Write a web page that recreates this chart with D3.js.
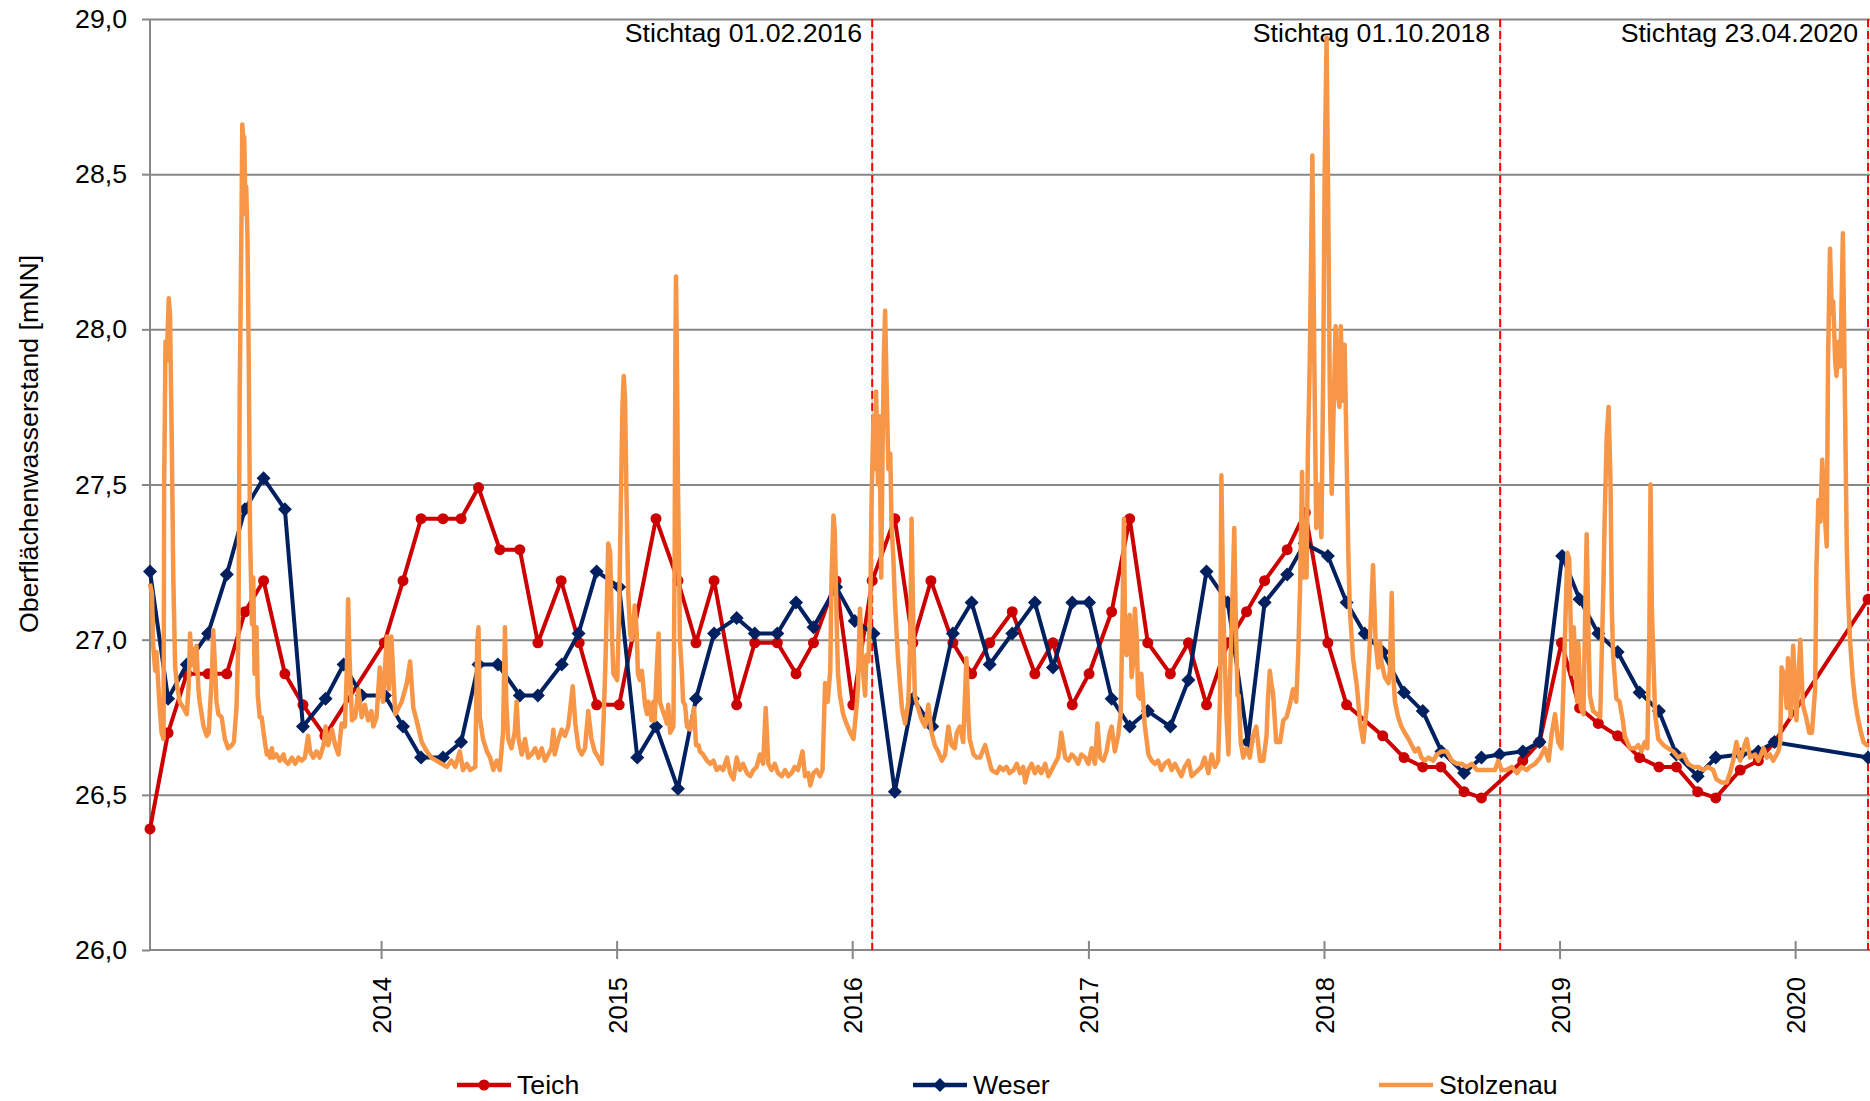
<!DOCTYPE html>
<html>
<head>
<meta charset="utf-8">
<script src="https://cdn.jsdelivr.net/npm/d3@7/dist/d3.min.js"></script>
<style>
  html, body { margin: 0; padding: 0; background: #ffffff; }
  svg { display: block; font-family: "Liberation Sans", Arial, sans-serif; }
</style>
</head>
<body>
<svg id="chart" width="1870" height="1101"></svg>
<script>
// ---- Teich: monthly gauge readings [m NN] ----
const teichDates = [
  "2013-01-08","2013-02-05","2013-03-06","2013-04-08","2013-05-07","2013-06-04","2013-07-03","2013-08-05","2013-09-02","2013-10-06",
  "2014-01-06","2014-02-04","2014-03-04","2014-04-07","2014-05-05","2014-06-01","2014-07-04","2014-08-04","2014-09-01","2014-10-07","2014-11-04","2014-12-01",
  "2015-01-05","2015-03-03","2015-04-06","2015-05-04","2015-06-01","2015-07-06","2015-08-03","2015-09-07","2015-10-06","2015-11-02","2015-12-07",
  "2016-01-02","2016-02-01","2016-03-07","2016-04-04","2016-05-02","2016-06-05","2016-07-04","2016-08-01","2016-09-05","2016-10-10","2016-11-07","2016-12-07",
  "2017-01-02","2017-02-06","2017-03-06","2017-04-03","2017-05-08","2017-06-05","2017-07-03","2017-08-05","2017-09-03","2017-10-01","2017-11-05","2017-12-03",
  "2018-01-07","2018-02-05","2018-04-02","2018-05-05","2018-06-03","2018-07-01","2018-08-06","2018-09-02","2018-11-05","2018-12-01",
  "2019-01-04","2019-02-01","2019-03-02","2019-04-01","2019-05-05","2019-06-04","2019-07-01","2019-08-03","2019-08-31","2019-10-08","2019-11-05","2019-11-30",
  "2020-04-23"
];
const teichValues = [
  26.39,26.70,26.89,26.89,26.89,27.09,27.19,26.89,26.79,26.69,
  26.99,27.19,27.39,27.39,27.39,27.49,27.29,27.29,26.99,27.19,26.99,26.79,
  26.79,27.39,27.19,26.99,27.19,26.79,26.99,26.99,26.89,26.99,27.19,
  26.79,27.19,27.39,26.99,27.19,26.99,26.89,26.99,27.09,26.89,26.99,26.79,
  26.89,27.09,27.39,26.99,26.89,26.99,26.79,26.99,27.09,27.19,27.29,27.41,
  26.99,26.79,26.69,26.62,26.59,26.59,26.51,26.49,26.61,26.67,
  26.99,26.78,26.73,26.69,26.62,26.59,26.59,26.51,26.49,26.58,26.61,26.67,
  27.13
];

// ---- Weser: monthly gauge readings [m NN] ----
const weserDates = [
  "2013-01-08","2013-02-05","2013-03-06","2013-04-08","2013-05-07","2013-06-04","2013-07-03","2013-08-05","2013-09-02","2013-10-07","2013-11-04","2013-12-02",
  "2014-01-07","2014-02-04","2014-03-04","2014-04-07","2014-05-05","2014-06-01","2014-07-01","2014-08-04","2014-09-01","2014-10-08","2014-11-03","2014-12-01",
  "2015-01-05","2015-02-02","2015-03-03","2015-04-06","2015-05-04","2015-06-01","2015-07-06","2015-08-03","2015-09-07","2015-10-06","2015-11-02","2015-12-07",
  "2016-01-05","2016-02-03","2016-03-07","2016-04-04","2016-05-04","2016-06-05","2016-07-04","2016-08-01","2016-09-05","2016-10-10","2016-11-07","2016-12-07",
  "2017-01-02","2017-02-06","2017-03-06","2017-04-03","2017-05-08","2017-06-05","2017-07-03","2017-08-05","2017-09-05","2017-10-01","2017-11-05","2017-12-02",
  "2018-01-07","2018-02-05","2018-03-05","2018-04-02","2018-05-05","2018-06-03","2018-07-02","2018-08-06","2018-09-02","2018-09-30","2018-11-05","2018-12-01",
  "2019-01-05","2019-02-01","2019-03-02","2019-04-01","2019-05-05","2019-06-04","2019-07-01","2019-08-03","2019-08-31","2019-10-08","2019-11-05","2019-11-30",
  "2020-04-23"
];
const weserValues = [
  27.22,26.81,26.92,27.02,27.21,27.42,27.52,27.42,26.72,26.81,26.92,26.82,
  26.82,26.72,26.62,26.62,26.67,26.92,26.92,26.82,26.82,26.92,27.02,27.22,
  27.17,26.62,26.72,26.52,26.81,27.02,27.07,27.02,27.02,27.12,27.04,27.17,
  27.06,27.02,26.51,26.81,26.72,27.02,27.12,26.92,27.02,27.12,26.91,27.12,
  27.12,26.81,26.72,26.77,26.72,26.87,27.22,27.12,26.67,27.12,27.21,27.31,
  27.27,27.12,27.02,26.96,26.83,26.77,26.64,26.57,26.62,26.63,26.64,26.67,
  27.27,27.13,27.02,26.96,26.83,26.77,26.63,26.56,26.62,26.63,26.64,26.67,
  26.62
];

// ---- Stolzenau: gauge series, day number counted from 1 Jan 2013 ----
const stolzenauDays = [
  7,10,12,15,17,20,22,25,28,29,31,33,36,38,41,43,46,49,53,59,64,67,69,72,74,77,79,82,84,90,95,98,100,103,105,108,110,113,118,123,128,134,137,141,
  144,146,149,150,152,153,155,156,158,160,162,165,167,169,172,174,177,180,183,185,188,190,193,196,198,203,208,214,216,221,227,232,237,242,247,252,255,
  260,265,270,276,279,283,289,294,299,304,309,312,314,316,320,325,330,335,340,345,350,353,358,363,
  368,374,377,381,387,392,397,405,410,415,420,428,436,443,451,459,467,474,480,487,492,498,503,511,514,516,518,523,529,534,539,544,549,554,557,559,562,
  567,572,575,578,583,588,593,598,604,609,614,619,624,629,632,634,640,645,650,655,662,666,671,676,681,686,691,696,702,707,710,713,717,720,
  723,725,728,731,734,737,739,741,743,745,748,751,753,756,758,761,763,766,769,771,774,777,779,782,784,787,789,792,795,797,800,805,808,810,813,818,
  820,821,822,823,825,827,828,831,833,836,839,844,850,853,857,859,864,870,875,880,885,890,895,901,906,911,916,921,926,932,937,942,947,952,957,961,
  965,970,975,980,986,991,996,1001,1006,1011,1018,1022,1027,1030,1035,1040,1045,1049,1053,1057,1061,1063,1066,1068,1071,1073,1076,1081,1086,
  1092,1097,1102,1104,1107,1110,1112,1115,1117,1120,1123,1125,1128,1130,1132,1135,1137,1140,1142,1144,1146,1148,1151,1154,1156,1159,1161,1166,1172,
  1177,1182,1185,1187,1190,1192,1197,1203,1208,1213,1218,1223,1228,1234,1239,1244,1249,1254,1257,1262,1267,1272,1275,1277,1283,1288,1293,1301,1306,
  1311,1319,1324,1329,1334,1339,1345,1350,1355,1360,1363,1368,1373,1378,1383,1388,1394,1399,1404,1409,1414,1417,1419,1422,1425,1430,1435,1440,1445,1450,
  1456,1461,1466,1471,1475,1479,1484,1489,1494,1497,1502,1507,1511,1514,1516,1518,1520,1523,1525,1528,1530,1533,1536,1538,1541,1543,1546,1548,1554,
  1559,1564,1569,1574,1579,1585,1590,1595,1600,1605,1610,1616,1621,1626,1631,1636,1641,1647,1652,1657,1662,1665,1667,1670,1672,1675,1678,1680,1683,
  1685,1687,1689,1692,1694,1697,1701,1706,1711,1716,1721,1727,1732,1737,1739,1742,1745,1747,1752,1758,1763,1768,1773,1778,1783,1786,1789,1792,1794,
  1796,1799,1801,1804,1808,1811,
  1814,1817,1822,1825,1827,1830,1833,1835,1838,1841,1844,1847,1850,1852,1855,1858,1861,1864,1866,1871,1877,1882,1887,1892,1897,1902,1906,1910,1913,
  1915,1920,1926,1928,1931,1933,1936,1941,1946,1951,1957,1962,1967,1972,1977,1982,1988,1995,2001,2008,2016,2024,2032,2039,2047,2055,2063,2070,2075,
  2083,2091,2096,2101,2109,2117,2125,2132,2140,2145,2153,2161,2168,2174,2179,2184,2189,
  2194,2199,2203,2206,2210,2213,2218,2220,2224,2228,2230,2233,2236,2238,2243,2249,2254,2259,2261,2264,2267,2270,2272,2274,2279,2284,2289,2292,2300,
  2308,2313,2318,2323,2327,2330,2332,2334,2339,2344,2352,2359,2367,2375,2383,2390,2398,2406,2414,2421,2429,2434,2442,2450,2455,2460,2465,2471,2476,
  2481,2486,2494,2499,2507,2512,2517,2522,2530,2533,2535,2539,2543,2545,2549,2553,
  2558,2564,2568,2573,2578,2582,2587,2589,2592,2595,2598,2602,2605,2607,2610,2613,2615,2618,2620,2623,2626,2630,2633,2636,2638,2641,2645,2649,2653,
  2657,2662,2667,2670
];
const stolzenauValues = [
  27.18,27.15,26.98,26.90,26.96,26.85,26.78,26.70,26.68,27.50,27.96,27.90,28.10,28.05,27.60,27.21,26.91,26.85,26.80,26.78,26.76,26.85,27.02,26.92,26.97,26.90,26.98,26.84,26.80,26.72,26.69,26.70,26.78,26.89,27.03,26.90,26.80,26.76,26.75,26.68,26.65,26.66,26.67,26.78,
  27.00,27.80,28.40,28.66,28.60,28.62,28.37,28.46,28.30,27.90,27.34,27.05,27.20,26.89,27.04,26.82,26.75,26.75,26.70,26.67,26.63,26.64,26.62,26.65,26.62,26.63,26.61,26.63,26.61,26.60,26.62,26.60,26.62,26.61,26.62,26.69,26.64,
  26.62,26.64,26.62,26.66,26.72,26.66,26.71,26.66,26.63,26.73,26.72,26.90,27.13,26.95,26.74,26.75,26.84,26.75,26.79,26.74,26.77,26.72,26.75,26.91,
  26.80,27.01,26.84,27.01,26.76,26.78,26.80,26.86,26.93,26.78,26.74,26.67,26.64,26.62,26.61,26.60,26.59,26.61,26.59,26.64,26.58,26.60,26.58,26.59,26.99,27.04,26.75,26.68,26.64,26.62,26.58,26.61,26.58,26.70,27.04,26.80,26.68,
  26.65,26.70,26.80,26.68,26.63,26.68,26.62,26.63,26.65,26.62,26.65,26.61,26.63,26.65,26.71,26.63,26.68,26.71,26.69,26.72,26.85,26.73,26.65,26.63,26.65,26.77,26.68,26.64,26.62,26.60,26.75,26.95,27.31,27.28,
  27.00,26.89,26.88,26.87,27.10,27.50,27.75,27.85,27.78,27.50,27.15,27.02,27.00,27.05,27.11,27.03,26.89,26.87,26.90,26.86,26.79,26.76,26.80,26.78,26.74,26.80,26.74,26.90,27.02,26.80,26.78,26.75,26.73,26.79,26.70,26.72,
  27.30,27.90,28.17,28.00,27.50,27.20,27.00,26.90,26.80,26.79,26.72,26.71,26.78,26.66,26.66,26.64,26.63,26.61,26.60,26.61,26.58,26.59,26.58,26.62,26.57,26.55,26.62,26.58,26.60,26.57,26.56,26.58,26.59,26.63,26.60,26.78,
  26.60,26.58,26.60,26.57,26.56,26.58,26.56,26.57,26.59,26.58,26.64,26.56,26.57,26.53,26.57,26.58,26.56,26.58,26.86,26.80,26.90,27.20,27.40,27.35,27.05,26.89,26.82,26.76,26.73,
  26.70,26.68,26.79,26.85,27.10,26.95,26.89,26.82,26.95,26.93,27.10,27.45,27.72,27.55,27.80,27.50,27.72,27.20,27.60,27.90,28.06,27.85,27.55,27.60,27.37,27.25,27.13,26.94,26.78,
  26.73,26.80,27.00,27.39,27.00,26.82,26.78,26.74,26.72,26.79,26.70,26.66,26.64,26.61,26.63,26.72,26.66,26.65,26.70,26.72,26.67,26.94,26.75,26.68,26.63,26.62,26.62,26.66,26.62,
  26.58,26.57,26.59,26.58,26.59,26.57,26.58,26.60,26.57,26.59,26.54,26.58,26.60,26.57,26.59,26.57,26.60,26.56,26.58,26.60,26.62,26.66,26.70,26.66,26.62,26.61,26.63,26.62,26.60,26.63,
  26.62,26.60,26.65,26.60,26.73,26.62,26.61,26.64,26.70,26.72,26.64,26.69,26.76,27.10,27.39,27.00,26.95,27.06,27.08,26.88,26.92,27.10,27.00,26.82,26.81,26.89,26.80,26.73,26.63,
  26.61,26.60,26.61,26.58,26.60,26.61,26.58,26.60,26.58,26.56,26.59,26.61,26.56,26.57,26.58,26.59,26.62,26.57,26.63,26.59,26.61,26.82,27.53,27.10,26.95,26.75,26.63,26.85,27.05,
  27.20,27.36,27.10,26.82,26.82,26.67,26.62,26.65,26.62,26.69,26.72,26.61,26.61,26.69,26.80,26.90,26.85,26.83,26.67,26.67,26.74,26.75,26.79,26.84,26.80,26.95,27.17,27.54,27.20,
  27.30,27.20,27.60,27.90,28.56,27.90,
  27.36,27.50,27.33,27.90,28.50,28.94,28.30,27.80,27.47,27.75,28.01,27.80,27.75,28.01,27.77,27.95,27.60,27.25,27.10,26.94,26.85,26.73,26.67,26.78,26.99,27.24,26.99,26.91,26.99,
  26.93,26.88,26.86,26.90,27.15,26.90,26.80,26.75,26.72,26.70,26.68,26.66,26.64,26.65,26.62,26.61,26.62,26.61,26.63,26.64,26.64,26.61,26.60,26.60,26.59,26.60,26.58,26.58,26.58,
  26.58,26.58,26.61,26.58,26.58,26.59,26.57,26.59,26.58,26.59,26.60,26.62,26.65,26.61,26.70,26.76,26.67,
  26.65,26.98,27.28,27.26,26.89,27.04,26.80,26.99,26.78,26.76,27.00,27.34,27.00,26.82,26.77,26.76,26.75,27.18,27.40,27.65,27.75,27.50,27.10,26.95,26.81,26.80,26.74,26.69,26.65,
  26.65,26.66,26.64,26.67,26.65,27.00,27.50,27.10,26.76,26.68,26.66,26.65,26.64,26.62,26.63,26.60,26.59,26.59,26.58,26.59,26.58,26.55,26.54,26.54,26.57,26.61,26.67,26.61,26.65,
  26.68,26.62,26.63,26.61,26.65,26.62,26.63,26.61,26.64,26.67,26.91,26.89,26.78,26.94,26.75,26.98,
  26.74,27.00,26.79,26.75,26.70,26.70,26.84,27.23,27.45,27.38,27.58,27.40,27.30,27.90,28.26,28.05,28.09,27.90,27.85,27.96,27.88,28.31,27.80,27.30,27.14,27.00,26.88,26.80,26.75,
  26.71,26.67,26.66,26.66
];

// ---- axes, reference dates ----
const yTicks = [26.0, 26.5, 27.0, 27.5, 28.0, 28.5, 29.0];
const xTickYears = [2014, 2015, 2016, 2017, 2018, 2019, 2020];
const axisStart = "2013-01-08";
const axisEnd = "2020-04-26";
const stichtagDates = ["2016-02-01", "2018-10-01", "2020-04-23"];
const stichtagLabels = ["Stichtag 01.02.2016", "Stichtag 01.10.2018", "Stichtag 23.04.2020"];
const seriesNames = ["Teich", "Weser", "Stolzenau"];
const yTitle = "Oberflächenwasserstand [mNN]";

// ---- drawing ----
const svg = d3.select("#chart");
const M = { left: 150, right: 1870, top: 19, bottom: 950 };
const GRID = "#878787";
const COL = { Teich: "#cc0000", Weser: "#002060", Stolzenau: "#f79646" };
const FS = 26.7;

const parse = d3.utcParse("%Y-%m-%d");
const x = d3.scaleUtc().domain([parse(axisStart), parse(axisEnd)]).range([M.left, M.right]);
const y = d3.scaleLinear().domain([yTicks[0], yTicks[yTicks.length - 1]]).range([M.bottom, M.top]);

const de = d3.formatLocale({ decimal: ",", thousands: ".", grouping: [3], currency: ["", " €"] });
const fmt = de.format(".1f");

svg.append("rect").attr("width", 1870).attr("height", 1101).attr("fill", "#fff");

// horizontal grid lines
const grid = svg.append("g").attr("transform", `translate(${M.left},0)`)
  .call(d3.axisLeft(y).tickValues(yTicks.slice(1)).tickSize(-(M.right - M.left)).tickFormat(""));
grid.select(".domain").remove();
grid.selectAll("line").attr("stroke", GRID).attr("stroke-width", 2);

// y axis
const yAx = svg.append("g").attr("transform", `translate(${M.left},0)`)
  .call(d3.axisLeft(y).tickValues(yTicks).tickSize(8).tickPadding(15).tickFormat(fmt));
yAx.select(".domain").attr("stroke", GRID).attr("stroke-width", 2).attr("d", `M0,${M.top}V${M.bottom}`);
yAx.selectAll("line").attr("stroke", GRID).attr("stroke-width", 2);
yAx.selectAll("text").attr("font-size", FS).attr("fill", "#000").attr("font-family", "Liberation Sans, Arial, sans-serif");

// x axis
const xAx = svg.append("g").attr("transform", `translate(0,${M.bottom})`)
  .call(d3.axisBottom(x).tickValues(xTickYears.map(yr => new Date(Date.UTC(yr, 0, 1)))).tickSize(9).tickFormat(d3.utcFormat("%Y")));
xAx.select(".domain").attr("stroke", GRID).attr("stroke-width", 2).attr("d", `M${M.left},0H${M.right}`);
xAx.selectAll(".tick line").attr("stroke", GRID).attr("stroke-width", 2).attr("y1", -9).attr("y2", 9);
xAx.selectAll(".tick text")
  .attr("font-size", 25.5).attr("fill", "#000").attr("font-family", "Liberation Sans, Arial, sans-serif")
  .attr("text-anchor", "end").attr("x", 0).attr("y", 0).attr("dy", null)
  .attr("transform", "translate(9.5,27) rotate(-90)");

// y axis title
svg.append("text")
  .attr("transform", `translate(38,444) rotate(-90)`)
  .attr("text-anchor", "middle").attr("font-size", FS).attr("fill", "#000")
  .text(yTitle);

// reference dates (dashed lines with labels)
const refs = svg.append("g");
stichtagDates.forEach((ds, i) => {
  const xp = x(parse(ds));
  refs.append("line").attr("x1", xp).attr("x2", xp).attr("y1", M.top).attr("y2", M.bottom)
    .attr("stroke", "#b4b4b4").attr("stroke-width", 1);
  refs.append("line").attr("x1", xp).attr("x2", xp).attr("y1", M.top).attr("y2", M.bottom)
    .attr("stroke", "#ff0000").attr("stroke-width", 2).attr("stroke-dasharray", "8,4");
  refs.append("text").attr("x", xp - 10).attr("y", 42).attr("text-anchor", "end")
    .attr("font-size", FS).attr("fill", "#000").text(stichtagLabels[i]);
});

// series data
const teich = teichDates.map((d, i) => ({ date: parse(d), value: teichValues[i] }));
const weser = weserDates.map((d, i) => ({ date: parse(d), value: weserValues[i] }));
const t0 = parse("2013-01-01");
const stolzenau = stolzenauDays.map((n, i) => ({ date: d3.utcDay.offset(t0, n), value: stolzenauValues[i] }));

const line = d3.line().x(d => x(d.date)).y(d => y(d.value));
const diamond = r => `M0,${-r}L${r},0L0,${r}L${-r},0Z`;

const series = svg.append("g");

// Teich
series.append("path").datum(teich).attr("d", line).attr("fill", "none")
  .attr("stroke", COL.Teich).attr("stroke-width", 4).attr("stroke-linejoin", "round");
series.append("g").selectAll("circle").data(teich).join("circle")
  .attr("cx", d => x(d.date)).attr("cy", d => y(d.value)).attr("r", 5.5).attr("fill", COL.Teich);

// Weser
series.append("path").datum(weser).attr("d", line).attr("fill", "none")
  .attr("stroke", COL.Weser).attr("stroke-width", 4).attr("stroke-linejoin", "round");
series.append("g").selectAll("path").data(weser).join("path")
  .attr("transform", d => `translate(${x(d.date)},${y(d.value)})`).attr("d", diamond(7)).attr("fill", COL.Weser);

// Stolzenau
series.append("path").datum(stolzenau).attr("d", line).attr("fill", "none")
  .attr("stroke", COL.Stolzenau).attr("stroke-width", 4.5).attr("stroke-linejoin", "round");

// legend
const legendX = [457, 913, 1379];
const lg = svg.append("g");
seriesNames.forEach((name, i) => {
  const g = lg.append("g").attr("transform", `translate(${legendX[i]},1085)`);
  g.append("line").attr("x1", 0).attr("x2", 54).attr("y1", 0).attr("y2", 0)
    .attr("stroke", COL[name]).attr("stroke-width", 4.5);
  if (name === "Teich") g.append("circle").attr("cx", 27).attr("cy", 0).attr("r", 5.5).attr("fill", COL[name]);
  if (name === "Weser") g.append("path").attr("transform", "translate(27,0)").attr("d", diamond(7)).attr("fill", COL[name]);
  g.append("text").attr("x", 60).attr("y", 8.5).attr("font-size", FS).attr("fill", "#000").text(name);
});
</script>
</body>
</html>
